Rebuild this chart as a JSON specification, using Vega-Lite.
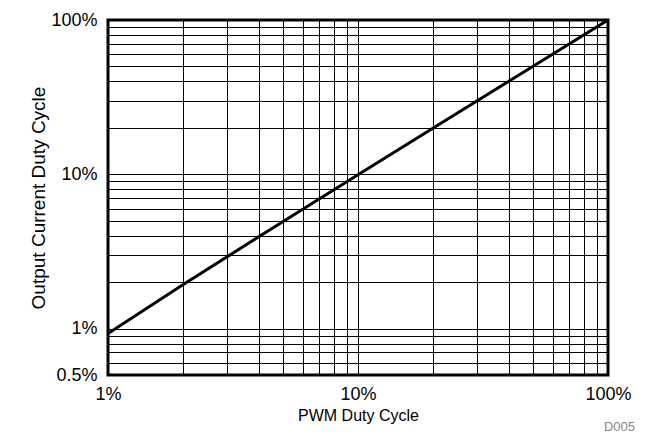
{
  "$schema": "https://vega.github.io/schema/vega-lite/v6.json",
  "autosize": "none",
  "width": 500,
  "height": 355,
  "padding": {"left": 108, "top": 20, "right": 61, "bottom": 67},
  "background": "white",
  "config": {
    "font": "Liberation Sans",
    "view": {"stroke": "#000", "strokeWidth": 3},
    "axis": {"domain": false, "ticks": false, "grid": true, "gridColor": "#000", "gridOpacity": 1, "gridWidth": 1, "labelFontSize": 18, "labelColor": "#000", "titleFontSize": 16, "titleFontWeight": "normal", "titleColor": "#000", "labelFont": "Liberation Sans", "titleFont": "Liberation Sans"}
  },
  "title": {"text": "D005", "orient": "bottom", "anchor": "end", "fontSize": 13, "fontWeight": "normal", "color": "#888", "offset": 0, "dx": 4, "dy": -2},
  "data": {"values": [
    {"pwm": 1, "out": 0.93},
    {"pwm": 2, "out": 1.93},
    {"pwm": 5, "out": 4.93},
    {"pwm": 10, "out": 9.93},
    {"pwm": 20, "out": 19.95},
    {"pwm": 50, "out": 49.95},
    {"pwm": 100, "out": 100}
  ]},
  "mark": {"type": "line", "color": "#000", "strokeWidth": 3, "clip": true},
  "encoding": {
    "x": {"field": "pwm", "type": "quantitative", "scale": {"type": "log", "domain": [1, 100], "nice": false},
      "axis": {"title": "PWM Duty Cycle", "values": [1,2,3,4,5,6,7,8,9,10,20,30,40,50,60,70,80,90,100],
        "labelExpr": "(datum.value == 1 || datum.value == 10 || datum.value == 100) ? datum.value + '%' : ''",
        "labelPadding": 10, "titlePadding": 4, "labelFlush": false}},
    "y": {"field": "out", "type": "quantitative", "scale": {"type": "log", "domain": [0.5, 100], "nice": false},
      "axis": {"title": "Output Current Duty Cycle", "titleFontSize": 19, "values": [0.5,0.6,0.7,0.8,0.9,1,2,3,4,5,6,7,8,9,10,20,30,40,50,60,70,80,90,100],
        "labelExpr": "(datum.value == 0.5 || datum.value == 1 || datum.value == 10 || datum.value == 100) ? datum.value + '%' : ''",
        "labelPadding": 11, "titlePadding": 2, "labelFlush": false}}
  }
}
